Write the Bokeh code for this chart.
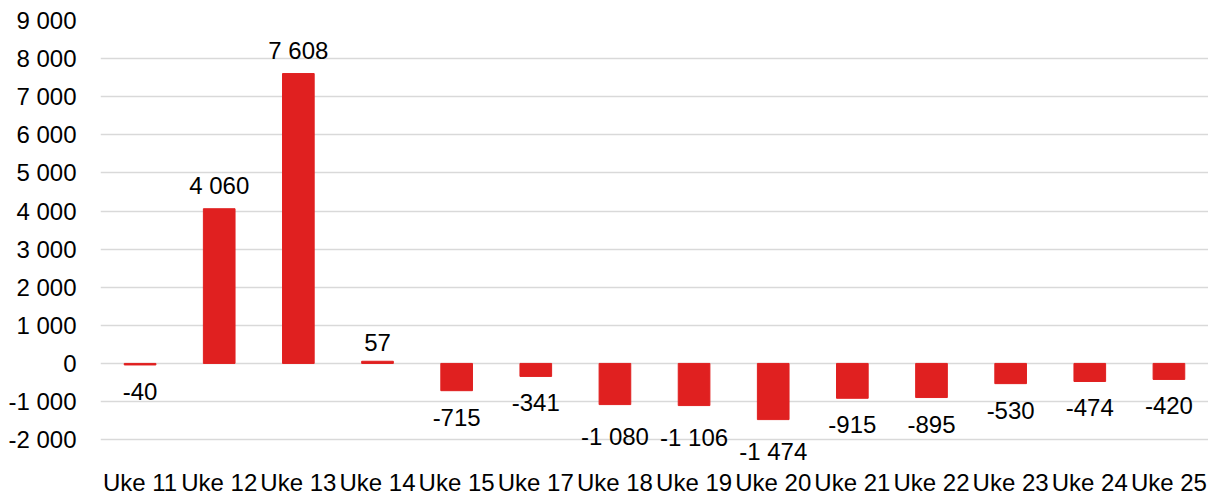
from bokeh.plotting import figure
from bokeh.models import Range1d, FixedTicker, ColumnDataSource, FactorRange
from bokeh.embed import file_html
from bokeh.resources import INLINE
from bokeh.core.properties import value

weeks = ["Uke 11", "Uke 12", "Uke 13", "Uke 14", "Uke 15", "Uke 17", "Uke 18",
         "Uke 19", "Uke 20", "Uke 21", "Uke 22", "Uke 23", "Uke 24", "Uke 25"]
values = [-40, 4060, 7608, 57, -715, -341, -1080, -1106, -1474, -915, -895, -530, -474, -420]
y_ticks = list(range(-2000, 9001, 1000))

def fmt(v):
    s = f"{abs(v):,}".replace(",", " ")
    return ("-" if v < 0 else "") + s

FONT = "Liberation Sans"
RED = "#E02020"
FS = "24px"

p = figure(width=1208, height=498, x_range=FactorRange(*weeks, range_padding=0),
           y_range=Range1d(-2600, 9000), output_backend="svg",
           toolbar_location=None, min_border_left=100, min_border_right=0,
           min_border_top=20, min_border_bottom=34)
p.outline_line_color = None
p.background_fill_color = "white"

src_pos = ColumnDataSource(dict(x=[w for w, v in zip(weeks, values) if v >= 0],
                                top=[v for v in values if v >= 0],
                                lab=[fmt(v) for v in values if v >= 0]))
src_neg = ColumnDataSource(dict(x=[w for w, v in zip(weeks, values) if v < 0],
                                top=[v for v in values if v < 0],
                                lab=[fmt(v) for v in values if v < 0]))

p.vbar(x="x", top="top", bottom=0, width=0.4, source=src_pos, fill_color=RED, line_color=RED)
p.vbar(x="x", top="top", bottom=0, width=0.4, source=src_neg, fill_color=RED, line_color=RED)

p.text(x="x", y="top", text="lab", source=src_pos, text_align="center",
       text_baseline="bottom", y_offset=-10, text_font=value(FONT),
       text_font_size=FS, text_color="black")
p.text(x="x", y="top", text="lab", source=src_neg, text_align="center",
       text_baseline="top", y_offset=18, text_font=value(FONT),
       text_font_size=FS, text_color="black")

p.yaxis.ticker = FixedTicker(ticks=y_ticks)
p.yaxis.major_label_overrides = {t: fmt(t) for t in y_ticks}
p.yaxis.axis_line_color = None
p.yaxis.major_tick_line_color = None
p.yaxis.minor_tick_line_color = None
p.yaxis.major_label_text_font = FONT
p.yaxis.major_label_text_font_size = FS
p.yaxis.major_label_text_color = "black"
p.yaxis.major_label_standoff = 18

p.xaxis.axis_line_color = None
p.xaxis.major_tick_line_color = None
p.xaxis.major_label_text_font = FONT
p.xaxis.major_label_text_font_size = FS
p.xaxis.major_label_text_color = "black"
p.xaxis.major_label_standoff = 0

p.xgrid.grid_line_color = None
p.ygrid.ticker = FixedTicker(ticks=y_ticks)
p.ygrid.grid_line_color = "#D9D9D9"
p.ygrid.grid_line_width = 1.5

open("out.html", "w").write(file_html(p, INLINE))
